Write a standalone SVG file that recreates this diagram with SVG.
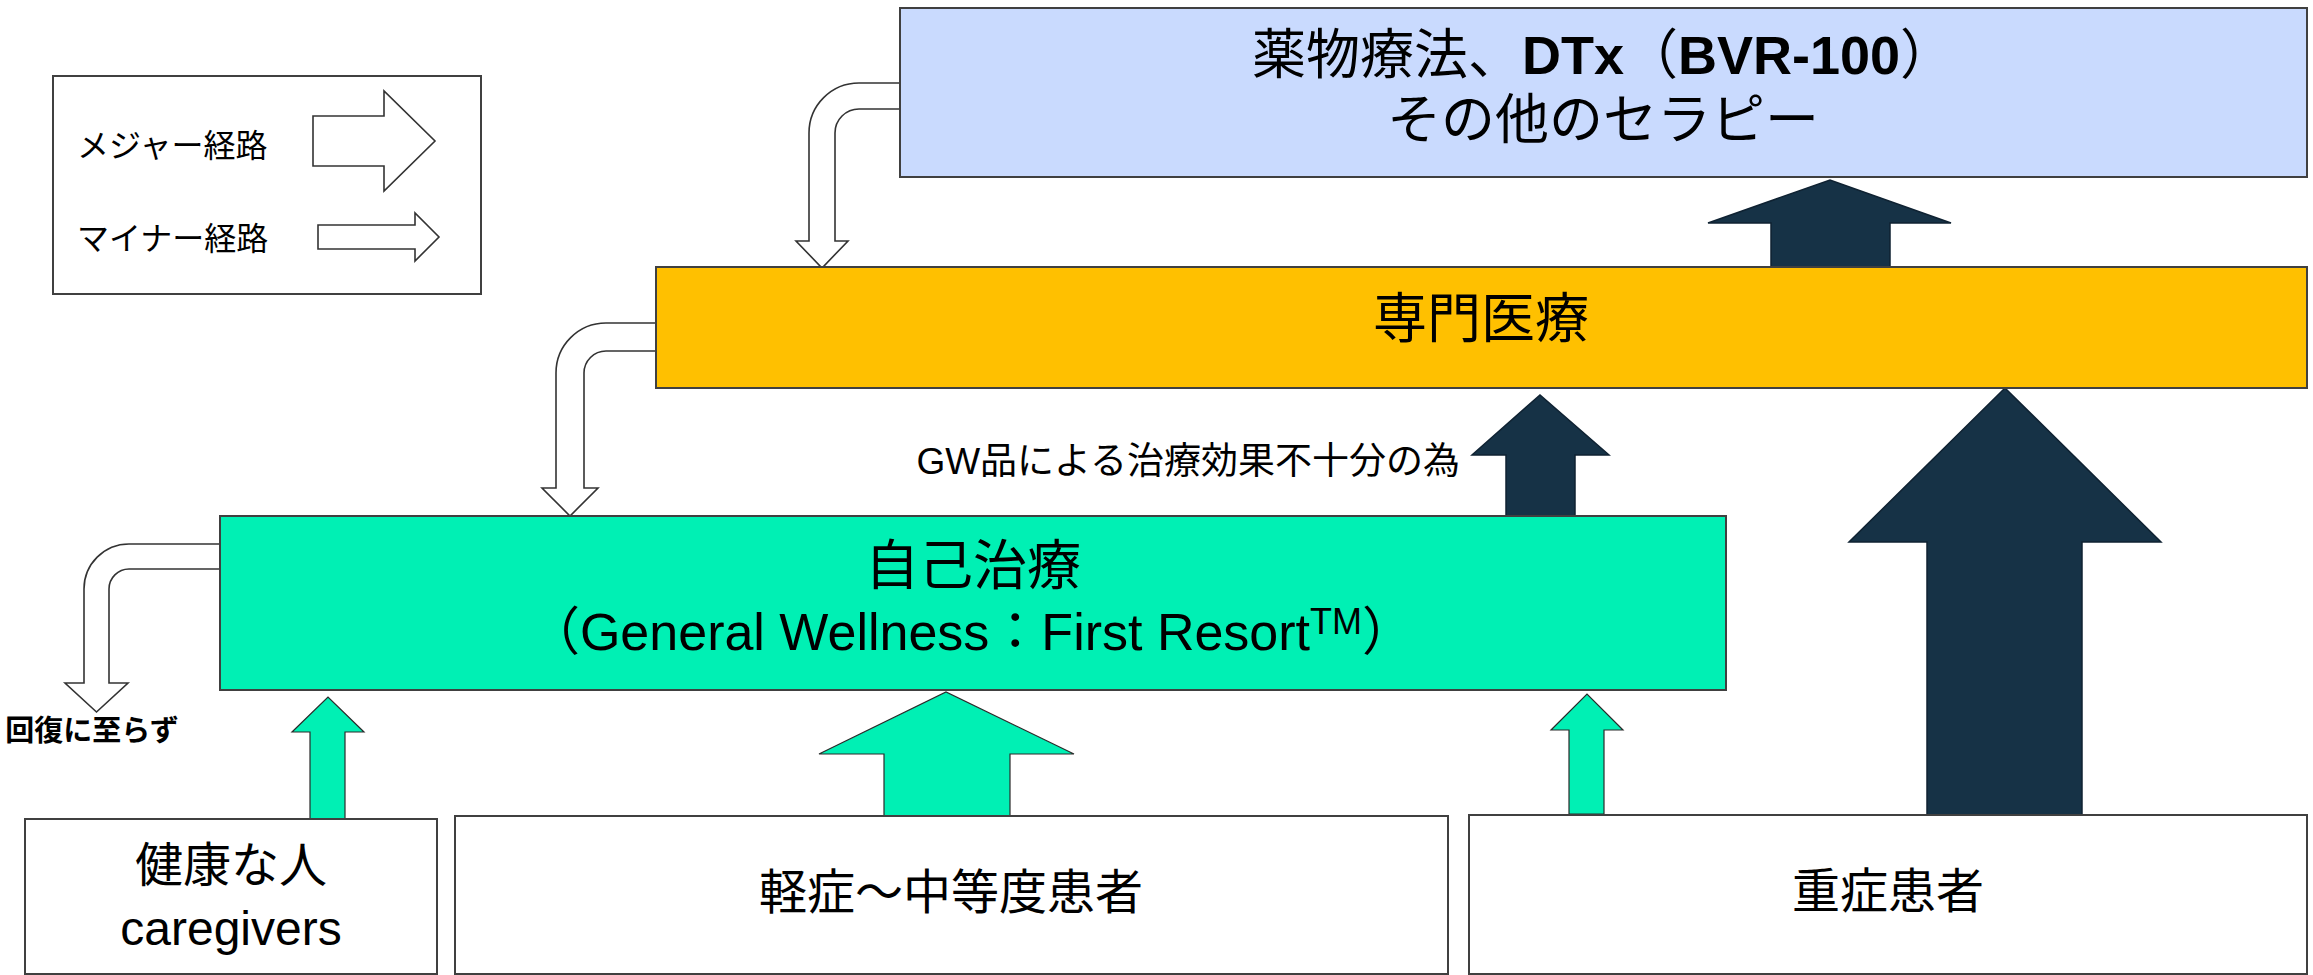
<svg xmlns="http://www.w3.org/2000/svg" width="2313" height="975" viewBox="0 0 2313 975">
<style>
text{font-family:"Liberation Sans","Noto Sans CJK JP",sans-serif;fill:#000}
.box{stroke:#404040;stroke-width:2}
.hollow{fill:#fff;stroke:#333;stroke-width:1.6;stroke-linejoin:miter}
.navy{fill:#163246;stroke:#0f2232;stroke-width:1.5}
.teal{fill:#00F0B4;stroke:#2a2a2a;stroke-width:1.2}
.c{text-anchor:middle}
</style>
<rect width="2313" height="975" fill="#fff"/>
<g id="legend">
<rect class="box" x="53" y="76" width="428" height="218" fill="#fff"/>
<text x="77" y="157" font-size="32">メジャー経路</text>
<text x="77" y="250" font-size="32">マイナー経路</text>
<polygon class="hollow" points="313,116 384,116 384,91 435,141 384,191 384,166 313,166"/>
<polygon class="hollow" points="318,225 415,225 415,213 439,237 415,261 415,249 318,249"/>
</g>
<g id="connectors">
<path class="hollow" d="M 902 83 L 859 83 A 50 50 0 0 0 809 133 L 809 241 L 796 241 L 822 268 L 848 241 L 835 241 L 835 133 A 24 24 0 0 1 859 109 L 902 109"/>
<path class="hollow" d="M 658 323 L 606 323 A 50 50 0 0 0 556 373 L 556 488 L 542 488 L 570 516 L 598 488 L 584 488 L 584 373 A 22 22 0 0 1 606 351 L 658 351"/>
<path class="hollow" d="M 222 544 L 129 544 A 45 45 0 0 0 84 589 L 84 683 L 65 683 L 96.5 712 L 128 683 L 109 683 L 109 589 A 20 20 0 0 1 129 569 L 222 569"/>
<polygon class="navy" points="1771,267 1771,223 1708,223 1830,180 1951,223 1890,223 1890,267"/>
<polygon class="navy" points="1506,516 1506,455 1472,455 1540,395 1609,455 1575,455 1575,516"/>
<polygon class="navy" points="1927,815 1927,542 1849,542 2005,388 2161,542 2082,542 2082,815"/>
<polygon class="teal" points="310,819 310,732 292,732 328,697 364,732 345,732 345,819"/>
<polygon class="teal" points="884,817 884,754 819,754 946,692 1074,754 1010,754 1010,817"/>
<polygon class="teal" points="1569,814 1569,730 1551,730 1587,694 1623,730 1604,730 1604,814"/>
<text x="1460" y="474" font-size="37" text-anchor="end">GW品による治療効果不十分の為</text>
<text x="92" y="741" font-size="29" font-weight="bold" class="c">回復に至らず</text>
</g>
<g id="node-therapy">
<rect class="box" x="900" y="8" width="1407" height="169" fill="#C9DAFE"/>
<text x="1603" y="74" font-size="54" class="c">薬物療法、<tspan font-weight="bold">DTx</tspan>（<tspan font-weight="bold">BVR-100</tspan>）</text>
<text x="1603" y="139" font-size="54" class="c">その他のセラピー</text>
</g>
<g id="node-specialist">
<rect class="box" x="656" y="267" width="1651" height="121" fill="#FFC000"/>
<text x="1481" y="338" font-size="54" class="c">専門医療</text>
</g>
<g id="node-selfcare">
<rect class="box" x="220" y="516" width="1506" height="174" fill="#00F0B4"/>
<text x="973" y="585" font-size="54" class="c">自己治療</text>
<text x="971" y="650" font-size="52" class="c">（General Wellness：First Resort<tspan font-size="36" dy="-16">TM</tspan><tspan dy="16">）</tspan></text>
</g>
<g id="node-healthy">
<rect class="box" x="25" y="819" width="412" height="155" fill="#fff"/>
<text x="231" y="882" font-size="48" class="c">健康な人</text>
<text x="231" y="945" font-size="48" class="c">caregivers</text>
</g>
<g id="node-mild">
<rect class="box" x="455" y="816" width="993" height="158" fill="#fff"/>
<text x="951" y="909" font-size="48" class="c">軽症～中等度患者</text>
</g>
<g id="node-severe">
<rect class="box" x="1469" y="815" width="838" height="159" fill="#fff"/>
<text x="1888" y="908" font-size="48" class="c">重症患者</text>
</g>
</svg>
